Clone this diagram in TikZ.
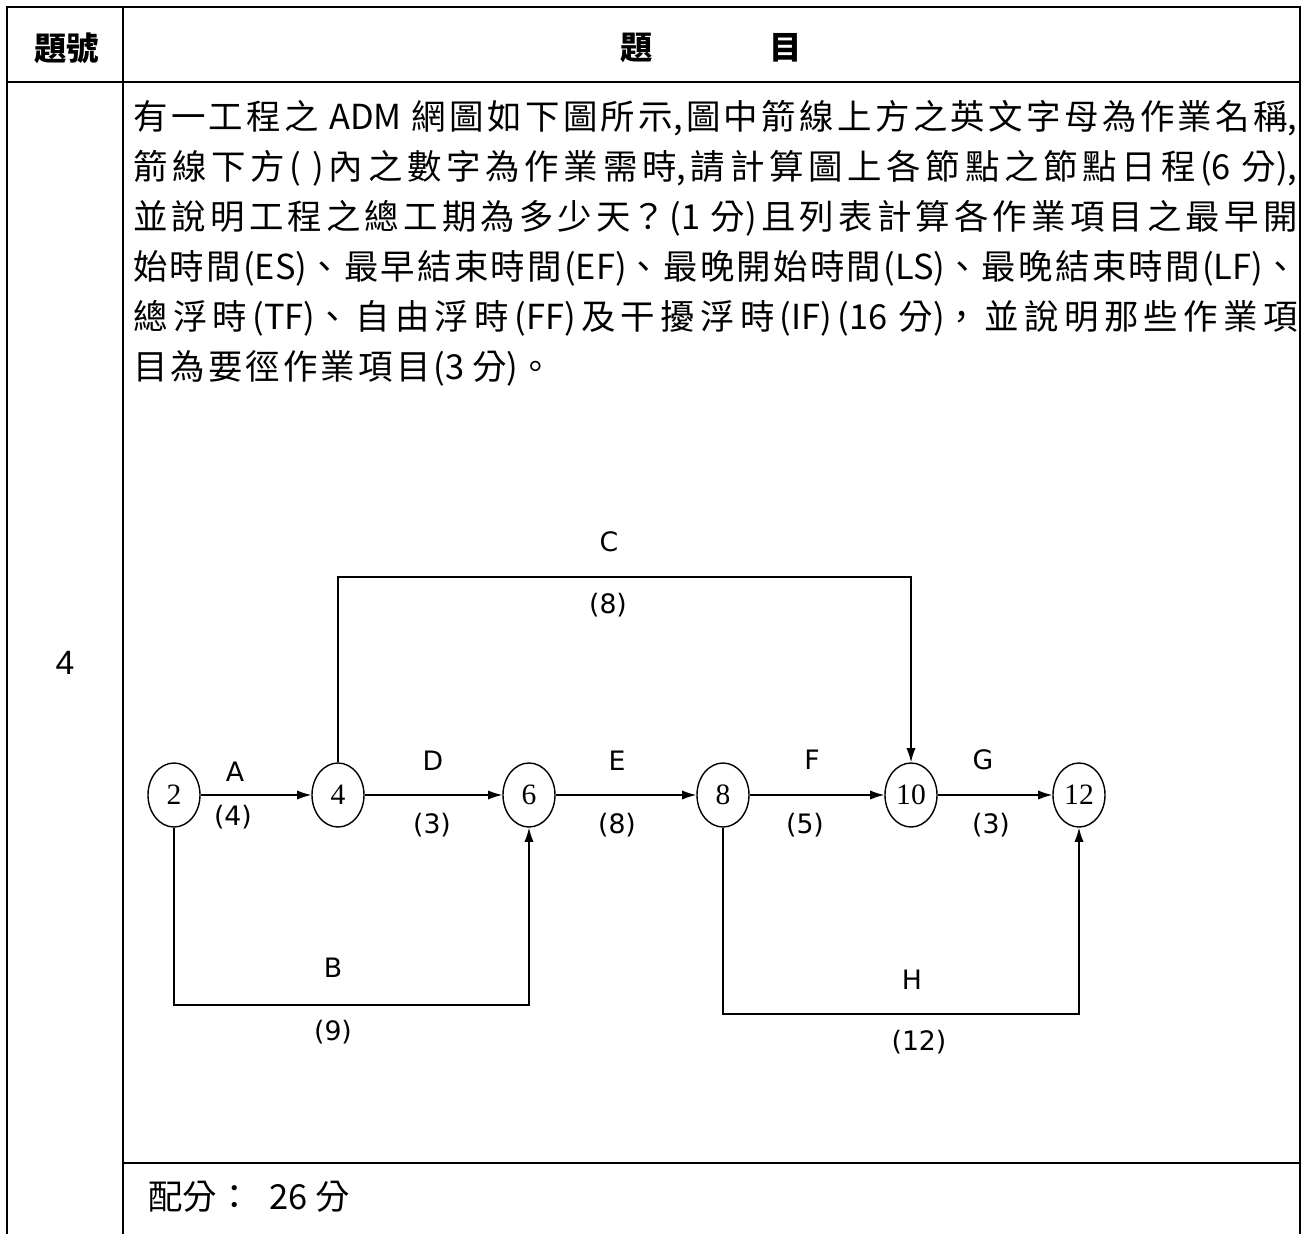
\documentclass[tikz,border=0pt]{standalone}
\usepackage{fontspec}
\usetikzlibrary{arrows.meta,shapes.geometric}
\newfontfamily\cjk{Noto Sans CJK TC}
\newfontfamily\lblfont{DejaVu Sans}
\newfontfamily\numfont{Liberation Serif}
\newfontfamily\qfont{Liberation Sans}
\XeTeXlinebreaklocale "zh"
\XeTeXlinebreakskip=0pt plus 4pt
\tolerance=10000

\begin{document}
\begin{tikzpicture}[x=0.025cm,y=-0.025cm,
    grid/.style={line width=1.6pt},
    head/.style={font=\cjk\bfseries\fontsize{23}{28}\selectfont,inner sep=0pt},
    body/.style={font=\cjk\fontsize{24.5}{35.6}\selectfont,inner sep=0pt},
    qnum/.style={font=\qfont\fontsize{24}{28}\selectfont,inner sep=0pt},
    event/.style={draw,ellipse,line width=1pt,minimum width=1.3cm,minimum height=1.6cm,
      inner sep=0pt,font=\numfont\fontsize{21}{24}\selectfont},
    act/.style={line width=1pt,-{Latex[length=10pt,width=6.5pt]}},
    lbl/.style={font=\lblfont\fontsize{19}{22}\selectfont,inner sep=0pt}]
  \useasboundingbox (0,0) rectangle (1303,1234);
  % table
  \draw[grid] (7,1234) -- (7,7) -- (1300,7) -- (1300,1234);
  \draw[grid] (123,7) -- (123,1234);
  \draw[grid] (7,82) -- (1300,82);
  \draw[grid] (123,1163) -- (1300,1163);
  \node[head] (hnum) at (67,48) {題號};
  \node[head] (htitle) at (711,48) {題\hspace{3.6em}目};
  \node[qnum] (qno) at (65,663) {4};
  \node[body,anchor=north west,text width=29.1cm,align=justify] (qtext) at (133,100) {%
    有一工程之 ADM 網圖如下圖所示,圖中箭線上方之英文字母為作業名稱,\linebreak
    箭線下方( )內之數字為作業需時,請計算圖上各節點之節點日程(6 分),\linebreak
    並說明工程之總工期為多少天？(1 分)且列表計算各作業項目之最早開\linebreak
    始時間(ES)、最早結束時間(EF)、最晚開始時間(LS)、最晚結束時間(LF)、\linebreak
    總浮時(TF)、自由浮時(FF)及干擾浮時(IF)(16 分)，並說明那些作業項\linebreak
    {\XeTeXlinebreakskip=2.2pt 目為要徑作業項目(3 分)。}};
  \node[body,anchor=west] (score) at (148,1197) {配分：\hspace{0.3em} 26 分};
  % network
  \node[event] (n2) at (174,795) {2};
  \node[event] (n4) at (338,795) {4};
  \node[event] (n6) at (529,795) {6};
  \node[event] (n8) at (723,795) {8};
  \node[event] (n10) at (911,795) {10};
  \node[event] (n12) at (1079,795) {12};
  \coordinate (cC) at (0,577);
  \coordinate (cB) at (0,1005);
  \coordinate (cH) at (0,1014);
  \draw[act] (n2) -- (n4);
  \draw[act] (n4) -- (n6);
  \draw[act] (n6) -- (n8);
  \draw[act] (n8) -- (n10);
  \draw[act] (n10) -- (n12);
  \draw[act] (n4) -- (n4 |- cC) -| (n10);
  \draw[act] (n2) -- (n2 |- cB) -| (n6);
  \draw[act] (n8) -- (n8 |- cH) -| (n12);
  \node[lbl] (lA) at (235,772) {A};
  \node[lbl] (dA) at (233,817) {(4)};
  \node[lbl] (lB) at (333,968) {B};
  \node[lbl] (dB) at (333,1032) {(9)};
  \node[lbl] (lC) at (609,542) {C};
  \node[lbl] (dC) at (608,605) {(8)};
  \node[lbl] (lD) at (433,761) {D};
  \node[lbl] (dD) at (432,825) {(3)};
  \node[lbl] (lE) at (617,761) {E};
  \node[lbl] (dE) at (617,825) {(8)};
  \node[lbl] (lF) at (812,760) {F};
  \node[lbl] (dF) at (805,825) {(5)};
  \node[lbl] (lG) at (983,760) {G};
  \node[lbl] (dG) at (991,825) {(3)};
  \node[lbl] (lH) at (912,980) {H};
  \node[lbl] (dH) at (919,1042) {(12)};
\end{tikzpicture}
\end{document}
